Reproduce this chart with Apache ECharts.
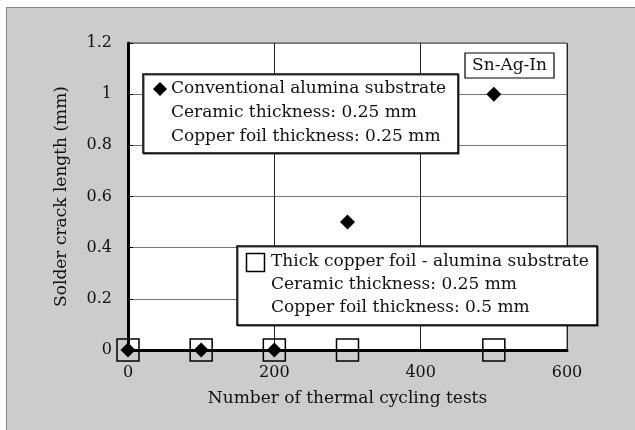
<!DOCTYPE html>
<html>
<head>
<meta charset="utf-8">
<script src="https://cdn.jsdelivr.net/npm/echarts@6/dist/echarts.min.js"></script>
<style>
  html, body { margin: 0; padding: 0; background: #fff; }
  #wrap { position: relative; width: 635px; height: 430px; overflow: hidden; }
  #frame { position: absolute; left: 6px; top: 7px; width: 700px; height: 500px; background: #cccccc; border-left: 1px solid #888; border-top: 1px solid #888; }
  #chart { position: absolute; left: 0; top: 0; width: 635px; height: 430px; }
</style>
</head>
<body>
<div id="wrap">
  <div id="frame"></div>
  <div id="chart"></div>
</div>
<script>
// cycles vs crack length
const cyclesConv = [0, 100, 200, 300, 500];
const crackConv = [0, 0, 0, 0.5, 1.0];
const cyclesThick = [0, 100, 200, 300, 500];
const crackThick = [0, 0, 0, 0, 0];

const convLines = ["Conventional alumina substrate", "Ceramic thickness: 0.25 mm", "Copper foil thickness: 0.25 mm"];
const thickLines = ["Thick copper foil - alumina substrate", "Ceramic thickness: 0.25 mm", "Copper foil thickness: 0.5 mm"];
const alloyLabel = "Sn-Ag-In";

const font = "DejaVu Serif";
const textSize = 17;
const tickSize = 16;

const chart = echarts.init(document.getElementById("chart"));

const option = {
  animation: false,
  backgroundColor: "transparent",
  grid: {
    left: 128,
    top: 43,
    right: 68,
    bottom: 80,
    show: true,
    backgroundColor: "#fff",
    borderColor: "#444",
    borderWidth: 1,
  },
  xAxis: {
    type: "value",
    min: 0,
    max: 600,
    interval: 200,
    name: "Number of thermal cycling tests",
    nameLocation: "middle",
    nameGap: 40,
    nameTextStyle: { fontFamily: font, fontSize: textSize, color: "#111" },
    axisLine: { lineStyle: { color: "#000", width: 3 } },
    axisTick: { show: false },
    axisLabel: { fontFamily: font, fontSize: tickSize, color: "#111", margin: 15 },
    splitLine: { lineStyle: { color: "#222", width: 1 } },
  },
  yAxis: {
    type: "value",
    min: 0,
    max: 1.2,
    interval: 0.2,
    name: "Solder crack length (mm)",
    nameLocation: "middle",
    nameGap: 58,
    nameTextStyle: { fontFamily: font, fontSize: textSize, color: "#111" },
    axisLine: { lineStyle: { color: "#000", width: 3 } },
    axisTick: { show: true, inside: true, length: 5, lineStyle: { color: "#000" } },
    axisLabel: { fontFamily: font, fontSize: tickSize, color: "#111", margin: 16 },
    splitLine: { lineStyle: { color: "#777", width: 1 } },
  },
  series: [
    {
      name: thickLines[0],
      type: "scatter",
      clip: false,
      symbol: "rect",
      symbolSize: 22,
      itemStyle: { color: "rgba(0,0,0,0)", borderColor: "#000", borderWidth: 1.5, opacity: 1 },
      data: cyclesThick.map((x, i) => [x, crackThick[i]]),
      z: 3,
    },
    {
      name: convLines[0],
      type: "scatter",
      clip: false,
      symbol: "diamond",
      symbolSize: 15,
      itemStyle: { color: "#000", opacity: 1 },
      data: cyclesConv.map((x, i) => [x, crackConv[i]]),
      z: 4,
    },
  ],
  graphic: [
    // legend box 1
    {
      type: "rect",
      shape: { x: 143, y: 74, width: 315, height: 79 },
      style: { fill: "#fff", stroke: "#000", lineWidth: 1.5, shadowColor: "rgba(0,0,0,0.5)", shadowOffsetX: 1, shadowOffsetY: 1 },
      z: 10,
    },
    {
      type: "polygon",
      shape: { points: [[160, 82], [167, 89], [160, 96], [153, 89]] },
      style: { fill: "#000" },
      z: 11,
    },
    {
      type: "text",
      x: 171, y: 77,
      style: { text: convLines.join("\n"), fontFamily: font, fontSize: textSize, lineHeight: 24, fill: "#111", verticalAlign: "top" },
      z: 11,
    },
    // legend box 2
    {
      type: "rect",
      shape: { x: 237, y: 246, width: 360, height: 79 },
      style: { fill: "#fff", stroke: "#000", lineWidth: 1.5, shadowColor: "rgba(0,0,0,0.5)", shadowOffsetX: 1, shadowOffsetY: 1 },
      z: 10,
    },
    {
      type: "rect",
      shape: { x: 246.5, y: 253.5, width: 18, height: 18 },
      style: { fill: "#fff", stroke: "#000", lineWidth: 1.5 },
      z: 11,
    },
    {
      type: "text",
      x: 271, y: 250,
      style: { text: thickLines.join("\n"), fontFamily: font, fontSize: textSize, lineHeight: 23, fill: "#111", verticalAlign: "top" },
      z: 11,
    },
    // alloy label
    {
      type: "rect",
      shape: { x: 465, y: 53, width: 89, height: 25 },
      style: { fill: "#fff", stroke: "#000", lineWidth: 1.2 },
      z: 10,
    },
    {
      type: "text",
      x: 509.5, y: 65.5,
      style: { text: alloyLabel, fontFamily: font, fontSize: textSize, fill: "#111", align: "center", verticalAlign: "middle" },
      z: 11,
    },
  ],
};

chart.setOption(option);
</script>
</body>
</html>
